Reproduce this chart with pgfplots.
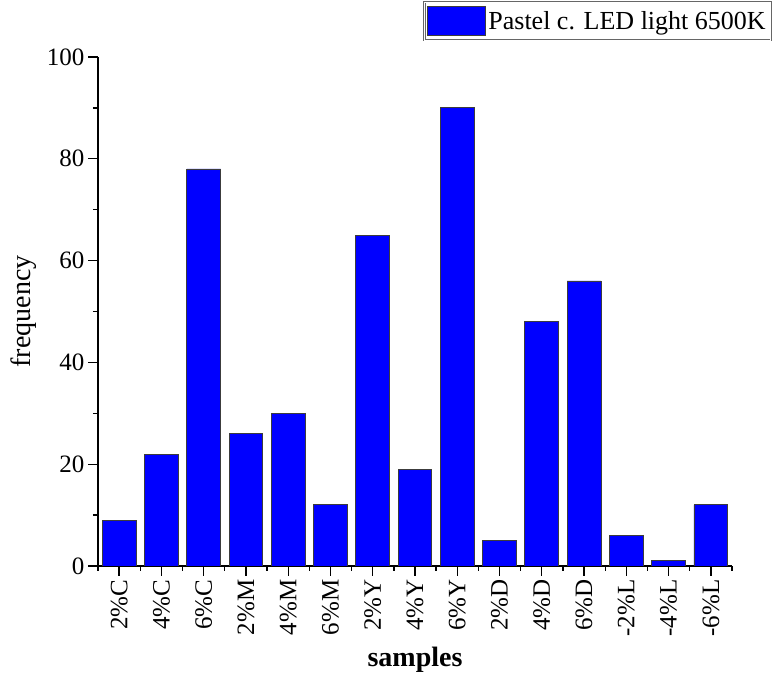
\documentclass[border=0pt]{standalone}
\usepackage{fontspec}
\setmainfont{Liberation Serif}
\usepackage{pgfplots}
\pgfplotsset{compat=1.18}
\definecolor{barblue}{RGB}{0,0,255}
\definecolor{edgegray}{RGB}{60,60,60}
\begin{document}
\begin{tikzpicture}
\begin{axis}[
  scale only axis,
  width=634pt, height=509pt,
  xmin=-0.5, xmax=14.5, ymin=0, ymax=100,
  axis x line*=bottom, axis y line*=left,
  axis line style={line width=1.4pt, -},
  xtick={0,...,14},
  xticklabels={2\%C,4\%C,6\%C,2\%M,4\%M,6\%M,2\%Y,4\%Y,6\%Y,2\%D,4\%D,6\%D,-2\%L,-4\%L,-6\%L},
  minor xtick={-0.5,0.5,...,14.5},
  ytick={0,20,40,60,80,100},
  minor ytick={10,30,50,70,90},
  tick align=outside,
  major tick length=10pt, minor tick length=5pt,
  tick style={line width=1.3pt, black},
  x tick label style={rotate=90, anchor=east, font=\fontsize{25}{27}\selectfont},
  y tick label style={font=\fontsize{25}{27}\selectfont},
  /pgf/number format/assume math mode=true,
  ylabel={frequency},
  ylabel style={font=\fontsize{28}{30}\selectfont, at={(axis description cs:-0.118,0.5)}, anchor=center},
  xlabel={\textbf{samples}},
  xlabel style={font=\fontsize{28}{30}\selectfont, at={(axis description cs:0.5,-0.185)}, anchor=center},
  legend style={at={(rel axis cs:1,1)}, anchor=north east, xshift=39pt, yshift=55pt,
    draw=gray!80!black, double=white, double distance=1pt, line width=0.6pt,
    font=\fontsize{26}{28}\selectfont, inner xsep=2pt, inner ysep=4pt,
    nodes={inner xsep=3pt}},
  legend image code/.code={\draw[fill=barblue, draw=edgegray, line width=0.8pt, double=none] (0pt,-14pt) rectangle (58pt,15pt);},
]
\addplot[ybar, bar width=0.8, fill=barblue, draw=edgegray, line width=0.9pt]
  coordinates {(0,9) (1,22) (2,78) (3,26) (4,30) (5,12) (6,65) (7,19) (8,90) (9,5) (10,48) (11,56) (12,6) (13,1) (14,12)};
\addlegendentry{Pastel c. LED light 6500K}
\coordinate (O) at (rel axis cs:0,0);
\end{axis}
\pgfresetboundingbox
\path (O) ++(-98pt,-113pt) rectangle ++(772pt,679pt);
\end{tikzpicture}
\end{document}
